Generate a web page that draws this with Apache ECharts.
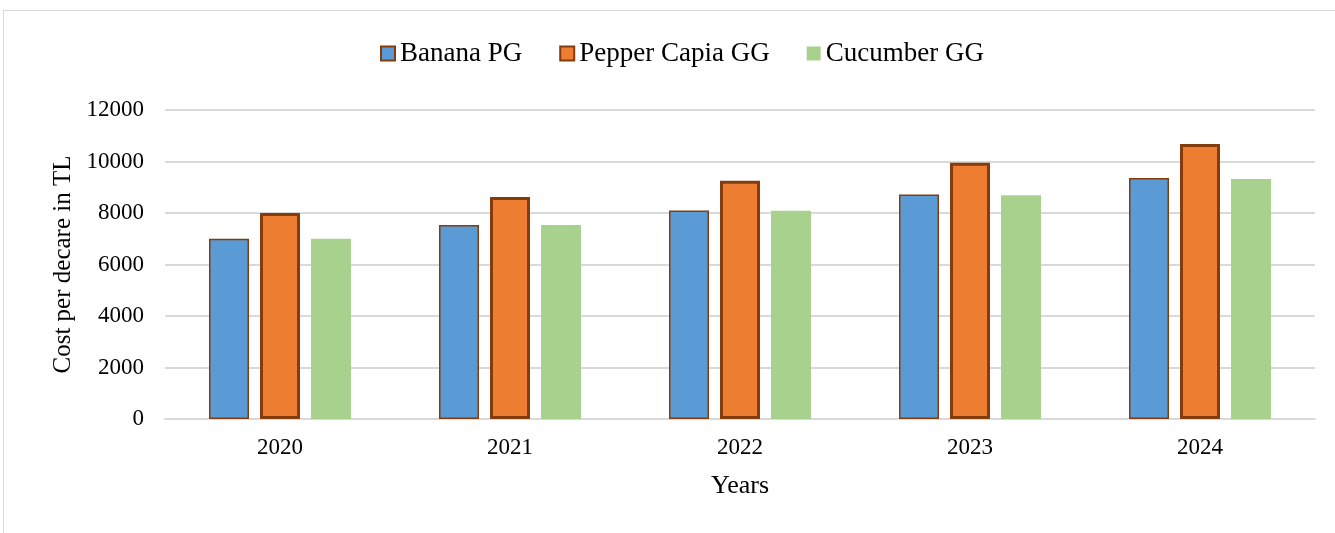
<!DOCTYPE html>
<html>
<head>
<meta charset="utf-8">
<script src="https://cdn.jsdelivr.net/npm/echarts@6/dist/echarts.min.js"></script>
<style>
  html, body { margin: 0; padding: 0; background: #fff; }
  #wrap { position: relative; width: 1335px; height: 533px; overflow: hidden; }
  #chart { position: absolute; left: 0; top: 0; width: 1335px; height: 533px; }
  #frame {
    position: absolute; left: 3px; top: 10px; width: 1340px; height: 540px;
    border-top: 1.5px solid #d9d9d9; border-left: 1.5px solid #d9d9d9;
    pointer-events: none;
  }
</style>
</head>
<body>
<div id="wrap">
  <div id="chart"></div>
  <div id="frame"></div>
</div>
<script>
(function() {
  var years = ['2020', '2021', '2022', '2023', '2024'];
  var bananaPG = [7000, 7530, 8100, 8720, 9360];
  var pepperCapiaGG = [8000, 8620, 9250, 9950, 10680];
  var cucumberGG = [7000, 7530, 8090, 8690, 9320];

  var serif = '"Liberation Serif", "Times New Roman", serif';
  var ink = '#000';
  var grid = '#d9d9d9';
  var brown = '#843C0C';

  var chart = echarts.init(document.getElementById('chart'), null, { renderer: 'canvas' });
  chart.setOption({
    animation: false,
    legend: {
      left: 375,
      top: 35,
      icon: 'rect',
      itemWidth: 14,
      itemHeight: 14,
      itemGap: 37,
      textStyle: { color: ink, fontSize: 27, fontFamily: serif },
      data: ['Banana PG', 'Pepper Capia GG', 'Cucumber GG']
    },
    grid: { left: 165, right: 20, top: 110, bottom: 114 },
    xAxis: {
      type: 'category',
      data: years,
      name: 'Years',
      nameLocation: 'middle',
      nameGap: 54,
      nameTextStyle: { color: ink, fontSize: 26, fontFamily: serif },
      axisLine: { lineStyle: { color: grid, width: 2 } },
      axisTick: { show: false },
      axisLabel: { color: ink, fontSize: 23, fontFamily: serif, margin: 17 }
    },
    yAxis: {
      type: 'value',
      min: 0,
      max: 12000,
      interval: 2000,
      name: 'Cost per decare in TL',
      nameLocation: 'middle',
      nameGap: 82,
      nameTextStyle: { color: ink, fontSize: 25, fontFamily: serif },
      axisLine: { show: false },
      axisTick: { show: false },
      splitLine: { lineStyle: { color: grid, width: 2 } },
      axisLabel: { color: ink, fontSize: 23, fontFamily: serif, margin: 21, formatter: function(v) { return String(v); } }
    },
    series: [
      {
        name: 'Banana PG',
        type: 'bar',
        data: bananaPG,
        barWidth: 40,
        barGap: '27.5%',
        itemStyle: { color: '#5B9BD5', borderColor: brown, borderWidth: 1.5 }
      },
      {
        name: 'Pepper Capia GG',
        type: 'bar',
        data: pepperCapiaGG,
        barWidth: 40,
        barGap: '27.5%',
        itemStyle: { color: '#ED7D31', borderColor: brown, borderWidth: 3 }
      },
      {
        name: 'Cucumber GG',
        type: 'bar',
        data: cucumberGG,
        barWidth: 40,
        barGap: '27.5%',
        itemStyle: { color: '#A9D18E' }
      }
    ]
  });
  window.addEventListener('resize', function() { chart.resize(); });
})();
</script>
</body>
</html>
